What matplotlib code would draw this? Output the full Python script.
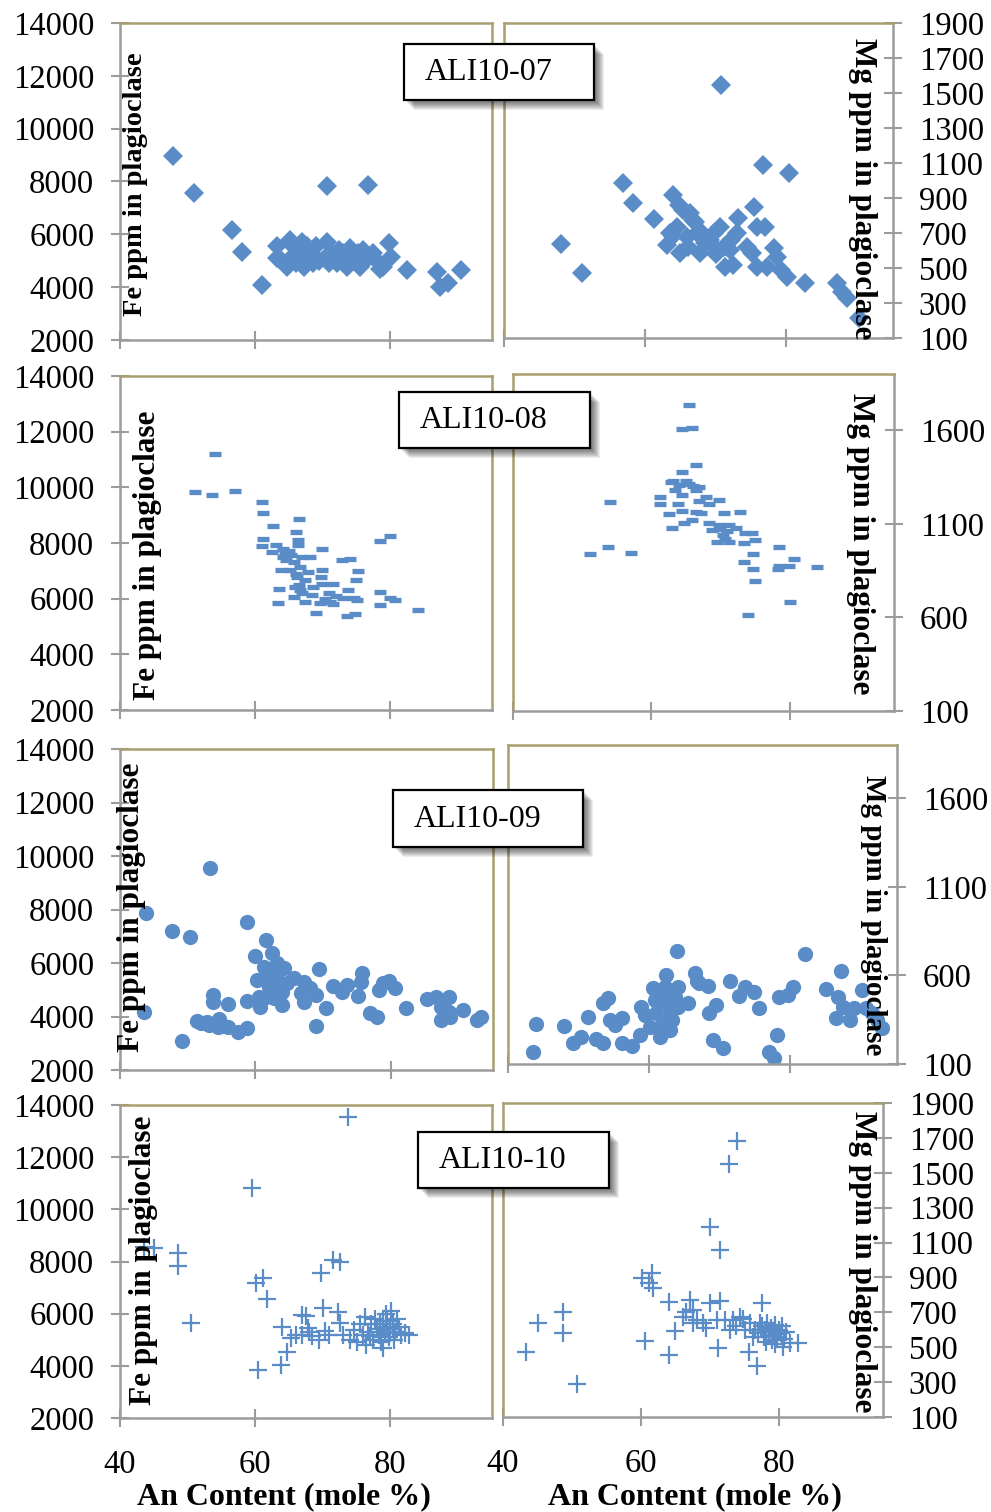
"""
Fe and Mg (ppm) in plagioclase vs An content for samples ALI10-07 .. ALI10-10.
Four rows, Fe panel on the left, Mg panel on the right.
"""
import numpy as np
import matplotlib
matplotlib.use('Agg')
import matplotlib.pyplot as plt
from matplotlib.patches import Rectangle

plt.rcParams.update({
    'font.family': 'Liberation Serif',
    'font.size': 22,
    'axes.linewidth': 1.8,
})

W, H = 991, 1512
COL_PT = '#5A8DC8'
COL_GRAY = '#9C9C9C'
COL_OLIVE = '#A89E6E'

# ---------------- data: ALI10-07 ----------------
an07_fe = [47.9, 50.9, 56.6, 58.1, 61.0, 70.6, 76.7, 65.2, 63.2, 64.7, 63.2, 66.7, 67.7,
           67.2, 69.1, 70.6, 70.4, 68.6, 73.1, 73.6, 72.1, 75.3, 75.6, 76.5, 77.5, 79.0,
           79.8, 80.2, 82.5, 86.9, 87.4, 88.6, 90.5, 64.0, 65.8, 66.0, 68.0, 69.5, 71.5,
           72.5, 74.5, 74.0, 76.0, 78.0, 78.5, 71.0, 67.0, 65.5]
fe07 = [8970, 7560, 6170, 5350, 4090, 7840, 7870, 5790, 5540, 4780, 5100, 5290, 5540,
        4780, 5540, 5700, 5100, 4920, 5290, 4780, 4920, 5290, 4780, 5030, 5290, 4780,
        5670, 5160, 4650, 4590, 4020, 4150, 4650, 5000, 5200, 4900, 5100, 5000, 5200,
        5400, 5000, 5500, 5400, 5000, 4700, 4900, 5700, 5600]
an07_mg = [70.8, 48.1, 51.1, 56.8, 58.3, 61.2, 76.7, 80.3, 63.9, 63.1, 65.0, 64.5, 66.4,
           67.3, 67.8, 65.9, 69.2, 70.6, 71.1, 71.3, 72.5, 73.0, 73.2, 75.4, 75.8, 77.0,
           75.1, 75.8, 78.2, 77.3, 78.7, 80.1, 79.2, 82.7, 87.2, 87.9, 88.6, 90.3, 65.4,
           66.8, 70.2, 72.1, 74.4, 64.0, 66.0, 68.5, 69.8, 70.0, 72.0, 64.8, 63.5, 67.0, 68.0]
mg07 = [1546, 635, 470, 987, 870, 780, 1089, 1041, 917, 631, 584, 736, 812,
        698, 584, 679, 660, 736, 622, 507, 517, 698, 784, 850, 736, 736,
        584, 507, 612, 507, 565, 450, 488, 416, 412, 365, 327, 212, 831,
        774, 603, 660, 622, 680, 620, 640, 700, 580, 600, 860, 700, 760, 700]

# ---------------- data: ALI10-08 ----------------
an08_fe = [54.0, 51.1, 53.7, 57.0, 61.1, 61.2, 62.7, 66.5, 61.2, 61.1, 66.0, 66.4, 66.4,
           63.1, 62.5, 64.2, 64.4, 64.2, 65.4, 66.9, 68.1, 69.9, 65.7, 66.7, 63.9, 65.2,
           67.9, 69.9, 66.2, 67.4, 69.8, 68.6, 69.9, 71.6, 65.9, 66.7, 63.6, 65.7, 66.9,
           68.4, 67.4, 63.4, 69.0, 69.6, 70.9, 71.1, 71.6, 72.9, 74.1, 73.7, 74.9, 75.2,
           73.1, 74.6, 75.1, 73.6, 74.8, 78.5, 80.0, 78.5, 78.5, 80.0, 80.7, 84.2, 65.0,
           66.0, 66.5, 70.3, 72.0, 64.6]
fe08 = [11200, 9830, 9720, 9860, 9470, 9070, 8610, 8880, 8140, 7900, 8380, 8100, 7940,
        7920, 7680, 7800, 7650, 7510, 7570, 7510, 7480, 7790, 7330, 7150, 7030, 7030,
        6970, 7030, 6790, 6670, 6790, 6430, 6520, 6520, 6430, 6310, 6330, 6070, 6190,
        6130, 5890, 5850, 5490, 5850, 6190, 5890, 5810, 7390, 7410, 6310, 6670, 6990,
        6010, 6010, 5950, 5390, 5440, 8070, 8260, 6230, 5770, 6040, 5970, 5590, 7700,
        6900, 6500, 6000, 6100, 7400]
an08_mg = [65.5, 64.5, 65.9, 66.4, 64.4, 62.8, 64.0, 65.5, 66.9, 63.5, 66.4, 61.2, 61.2,
           64.5, 67.9, 69.8, 63.9, 66.9, 68.3, 62.6, 64.5, 66.4, 67.2, 65.9, 64.7, 63.0,
           68.3, 70.5, 72.9, 69.8, 71.2, 72.2, 68.8, 70.3, 69.5, 71.2, 73.6, 74.6, 73.4,
           75.0, 78.5, 74.7, 73.4, 74.7, 75.0, 78.4, 78.3, 79.9, 80.6, 84.0, 80.0, 74.0,
           54.1, 53.7, 51.2, 57.0, 63.2, 65.0, 66.0, 70.0, 71.0, 70.7]
mg08 = [1737, 1605, 1612, 1413, 1377, 1324, 1307, 1315, 1297, 1280, 1280, 1244, 1208,
        1253, 1241, 1226, 1205, 1220, 1205, 1150, 1169, 1162, 1155, 1120, 1103, 1080,
        1105, 1155, 1161, 1093, 1093, 1075, 1066, 1040, 1004, 1004, 1049, 1049, 995,
        1013, 977, 936, 894, 856, 794, 876, 858, 876, 911, 870, 683, 612,
        1214, 974, 938, 942, 1330, 1330, 1300, 1070, 1060, 1020]

# ---------------- data: ALI10-09 ----------------
an09_fe = [53.3, 43.8, 47.7, 50.4, 43.5, 49.2, 58.8, 61.6, 59.9, 62.5, 51.4, 52.0, 53.8,
           53.8, 54.6, 54.5, 56.0, 56.0, 57.5, 58.7, 58.8, 60.5, 60.7, 61.6, 60.2, 61.5,
           61.2, 62.7, 63.2, 64.2, 63.2, 64.7, 63.9, 63.9, 65.7, 67.2, 66.7, 67.2, 68.1,
           68.9, 69.4, 70.5, 69.0, 71.5, 72.8, 73.6, 75.1, 75.6, 75.7, 77.0, 77.9, 78.3,
           78.8, 79.8, 80.6, 82.3, 85.3, 86.7, 87.4, 87.4, 88.6, 88.7, 88.6, 90.6, 92.8,
           93.3, 52.8, 53.2, 55.2, 62.0, 62.8]
fe09 = [9560, 7860, 7210, 6970, 4180, 3100, 7540, 6860, 6270, 6390, 3830, 3760, 4800,
        4550, 3900, 3620, 4470, 3590, 3430, 3580, 4590, 4740, 4370, 4740, 5360, 5490,
        5860, 5610, 5990, 5800, 5360, 5240, 4930, 4430, 5430, 5300, 4870, 4550, 5050,
        4800, 5760, 4330, 3650, 5150, 4930, 5180, 4780, 5300, 5610, 4140, 3970, 4990,
        5240, 5340, 5050, 4330, 4640, 4740, 4370, 3870, 4740, 3990, 4180, 4240, 3870,
        3970, 3800, 3700, 3650, 5100, 4700]
an09_mg = [43.9, 43.6, 47.9, 51.4, 49.2, 50.4, 52.5, 53.5, 53.5, 54.2, 54.4, 55.1, 56.1,
           56.1, 57.6, 58.7, 58.9, 59.4, 60.1, 60.5, 61.0, 61.5, 61.5, 62.0, 62.2, 62.4,
           62.9, 63.0, 63.6, 64.1, 64.1, 64.0, 65.5, 66.5, 67.1, 68.3, 68.5, 69.4, 69.0,
           70.4, 71.5, 72.7, 73.5, 74.9, 75.5, 77.0, 77.7, 78.1, 78.4, 79.6, 80.3, 82.1,
           85.0, 87.2, 86.7, 87.4, 86.4, 88.5, 89.0, 90.2, 90.7, 91.6, 92.3, 93.0, 60.8,
           61.8, 62.5, 63.3, 62.0, 66.8]
mg09 = [326, 169, 316, 363, 220, 254, 239, 217, 446, 471, 348, 320, 357,
        220, 202, 264, 423, 376, 310, 527, 386, 254, 442, 330, 536, 602,
        292, 386, 480, 536, 423, 739, 442, 611, 555, 540, 386, 433, 235,
        189, 570, 484, 536, 508, 418, 169, 136, 264, 480, 489, 536, 720,
        521, 626, 480, 423, 357, 348, 414, 517, 414, 386, 348, 301, 460,
        500, 460, 350, 280, 570]

# ---------------- data: ALI10-10 ----------------
an10_fe = [73.8, 59.5, 48.6, 48.6, 43.5, 45.0, 50.5, 60.2, 61.2, 61.7, 60.5, 63.9, 64.7,
           64.0, 69.8, 71.5, 72.6, 70.1, 72.3, 66.9, 66.9, 67.9, 65.4, 68.4, 70.4, 72.6,
           73.1, 74.6, 75.1, 76.3, 82.2, 76.8, 77.2, 77.5, 77.8, 78.0, 78.3, 78.5, 78.7,
           79.0, 79.2, 79.4, 79.6, 79.8, 80.0, 80.2, 80.4, 80.6, 80.8, 81.0, 81.3, 81.6,
           79.0, 78.6, 79.5, 80.0, 78.9, 77.0, 76.0, 75.5, 74.0, 71.0, 69.5, 68.0, 66.0,
           67.5, 76.5, 82.8]
fe10 = [13550, 10810, 8320, 7810, 8570, 8510, 5640, 7170, 7360, 6570, 3850, 4020, 4530,
        5490, 7550, 8060, 8000, 6210, 6080, 5960, 5190, 5450, 5060, 5130, 5320, 5640,
        5190, 5380, 4930, 5890, 5260, 5300, 5600, 5000, 5800, 5400, 5200, 5600, 4900,
        5500, 5300, 6000, 5700, 5100, 5400, 6100, 5600, 5000, 5300, 5800, 5500, 5200,
        4700, 5100, 5450, 5250, 5700, 5150, 5200, 5600, 5000, 5200, 5000, 5300, 5200,
        5900, 4800, 5200]
an10_mg = [73.9, 72.8, 70.0, 71.4, 45.1, 43.4, 48.7, 48.7, 50.7, 60.6, 60.1, 61.6, 61.2,
           61.8, 64.0, 64.0, 64.9, 67.1, 67.6, 66.1, 68.1, 70.0, 71.4, 69.5, 71.0, 72.2,
           73.4, 74.3, 72.9, 71.2, 75.1, 77.6, 75.6, 76.8, 81.6, 82.8, 80.6, 76.5, 77.0,
           77.5, 77.8, 78.0, 78.3, 78.5, 78.8, 79.0, 79.2, 79.5, 79.8, 80.0, 80.3, 80.5,
           80.8, 81.0, 78.2, 79.4, 77.3, 76.2, 75.8, 74.8, 73.8, 66.5, 67.5, 69.0]
mg10 = [1680, 1552, 1192, 1058, 637, 470, 703, 579, 288, 537, 895, 927, 870,
        838, 761, 454, 594, 770, 713, 675, 656, 751, 766, 608, 656, 656,
        656, 675, 598, 493, 598, 751, 470, 391, 522, 525, 502, 600, 580,
        620, 560, 600, 640, 570, 610, 540, 590, 630, 560, 600, 580, 620,
        550, 590, 530, 520, 640, 560, 640, 660, 620, 700, 640, 640]

SAMPLES = ['ALI10-07', 'ALI10-08', 'ALI10-09', 'ALI10-10']
FE_TICKS = [2000, 4000, 6000, 8000, 10000, 12000, 14000]
MG_TICKS_FINE = [100, 300, 500, 700, 900, 1100, 1300, 1500, 1700, 1900]
MG_TICKS_COARSE = [100, 600, 1100, 1600]
AN_TICKS = [40, 60, 80]

# panel frames in pixels: (left, top, right, bottom)
LEFT_FR = [(120, 23, 492, 340), (120, 376, 492, 710), (120, 749, 493, 1070), (120, 1105, 492, 1418)]
RIGHT_FR = [(504, 23, 893, 338), (513, 374, 894, 711), (508, 745, 897, 1064), (503, 1103, 883, 1417)]
BOXES = [(404, 44, 594, 100), (399, 392, 590, 448), (393, 790, 583, 847), (418, 1132, 609, 1188)]
FE_LAB = [(135, 184, 20.5), (148, 555, 22.5), (132, 907, 22.5), (143, 1260, 22.5)]
MG_LAB = [(862, 189, 22.5), (861, 544, 22.5), (874, 915, 21.0), (863, 1262, 22.5)]

STYLES = [
    dict(marker='D', ms=10.5, mew=0, ls='none'),
    dict(marker='_', ms=9, mew=3.8, ls='none'),
    dict(marker='o', ms=11, mew=0, ls='none'),
    dict(marker='+', ms=13, mew=1.6, ls='none'),
]


def px_axes(fig, frame):
    l, t, r, b = frame
    return fig.add_axes([l / W, 1 - b / H, (r - l) / W, (b - t) / H])


def style_axes(ax, side, show_x):
    for s in ax.spines.values():
        s.set_linewidth(1.8)
    ax.spines['bottom'].set_color(COL_GRAY)
    ax.spines['top'].set_color(COL_OLIVE)
    if side == 'left':
        ax.spines['left'].set_color(COL_GRAY)
        ax.spines['right'].set_color(COL_OLIVE)
    else:
        ax.spines['right'].set_color(COL_GRAY)
        ax.spines['left'].set_color(COL_OLIVE)
        ax.yaxis.tick_right()
    ax.tick_params(axis='both', direction='inout', length=13, width=1.5,
                   color=COL_GRAY, labelsize=23.5)
    ax.tick_params(axis='y', pad=12)
    ax.tick_params(axis='x', pad=16, labelbottom=show_x)
    ax.set_xlim(40, 95.1)
    ax.set_xticks(AN_TICKS)


fig = plt.figure(figsize=(W / 100, H / 100), dpi=100)

fe_data = [(an07_fe, fe07), (an08_fe, fe08), (an09_fe, fe09), (an10_fe, fe10)]
mg_data = [(an07_mg, mg07), (an08_mg, mg08), (an09_mg, mg09), (an10_mg, mg10)]

for i in range(4):
    last = i == 3
    # Fe panel
    ax = px_axes(fig, LEFT_FR[i])
    ax.plot(fe_data[i][0], fe_data[i][1], color=COL_PT, **STYLES[i])
    ax.set_ylim(2000, 14000)
    ax.set_yticks(FE_TICKS)
    style_axes(ax, 'left', last)

    # Mg panel
    ax = px_axes(fig, RIGHT_FR[i])
    ax.plot(mg_data[i][0], mg_data[i][1], color=COL_PT, **STYLES[i])
    ax.set_ylim(100, 1900)
    ax.set_yticks(MG_TICKS_FINE if i in (0, 3) else MG_TICKS_COARSE)
    style_axes(ax, 'right', last)

    # axis titles drawn inside the panels
    x, y, fs = FE_LAB[i]
    fig.text(x / W, 1 - y / H, 'Fe ppm in plagioclase', rotation=90, fontsize=fs,
             fontweight='bold', ha='center', va='center')
    x, y, fs = MG_LAB[i]
    fig.text(x / W, 1 - y / H, 'Mg ppm in plagioclase', rotation=270, fontsize=fs,
             fontweight='bold', ha='center', va='center')

    # sample name box with a soft drop shadow
    l, t, r, b = BOXES[i]
    for k in range(1, 11):
        fig.patches.append(Rectangle(((l + k) / W, 1 - (b + k) / H), (r - l) / W, (b - t) / H,
                                     transform=fig.transFigure, facecolor='black',
                                     edgecolor='none', alpha=0.07, zorder=5))
    fig.patches.append(Rectangle((l / W, 1 - b / H), (r - l) / W, (b - t) / H,
                                 transform=fig.transFigure, facecolor='white',
                                 edgecolor='black', lw=1.6, zorder=6))
    fig.text((l + 21) / W, 1 - ((t + b) / 2 + 1) / H, SAMPLES[i], fontsize=23,
             ha='left', va='center', zorder=7)

# x-axis titles under the bottom row
for xc in (284, 695):
    fig.text(xc / W, 1 - 1497 / H, 'An Content (mole %)', fontsize=23,
             fontweight='bold', ha='center', va='center')

fig.savefig('out.png', dpi=100)
